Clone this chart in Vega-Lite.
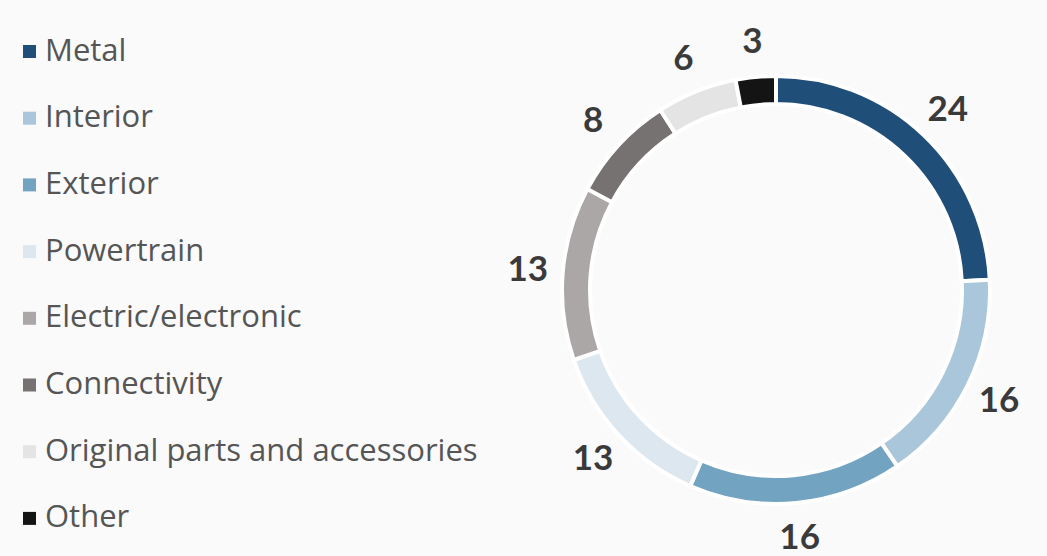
{
  "$schema": "https://vega.github.io/schema/vega-lite/v6.json",
  "width": 540,
  "height": 532,
  "padding": {"left": 506, "top": 24, "right": 1, "bottom": 0},
  "autosize": {"type": "none"},
  "background": "#fafafa",
  "config": {"view": {"stroke": null}},
  "data": {
    "values": [
      {"category": "Metal", "value": 24, "order": 1},
      {"category": "Interior", "value": 16, "order": 2},
      {"category": "Exterior", "value": 16, "order": 3},
      {"category": "Powertrain", "value": 13, "order": 4},
      {"category": "Electric/electronic", "value": 13, "order": 5},
      {"category": "Connectivity", "value": 8, "order": 6},
      {"category": "Original parts and accessories", "value": 6, "order": 7},
      {"category": "Other", "value": 3, "order": 8}
    ]
  },
  "layer": [
    {
      "mark": {"type": "arc", "outerRadius": 214, "innerRadius": 186, "stroke": "white", "strokeWidth": 4},
      "encoding": {
        "theta": {"field": "value", "type": "quantitative", "stack": true},
        "order": {"field": "order", "type": "quantitative"},
        "color": {
          "field": "category",
          "type": "nominal",
          "scale": {
            "domain": ["Metal", "Interior", "Exterior", "Powertrain", "Electric/electronic", "Connectivity", "Original parts and accessories", "Other"],
            "range": ["#1f4e79", "#a9c6da", "#72a3c1", "#dde7f0", "#aba7a6", "#767271", "#e4e4e4", "#141414"]
          },
          "legend": {
            "orient": "none",
            "legendX": -492,
            "legendY": 12,
            "title": null,
            "padding": 0,
            "symbolType": "square",
            "symbolSize": 169,
            "symbolStrokeWidth": 0,
            "labelFont": "Open Sans",
            "labelFontSize": 31,
            "labelColor": "#555555",
            "labelOffset": 0,
            "rowPadding": 34.7,
            "labelLimit": 600
          }
        }
      }
    },
    {
      "mark": {"type": "text", "radius": 249, "fontSize": 35, "fontWeight": "bold", "font": "Lato", "color": "#3a3a3a", "align": "center", "baseline": "middle"},
      "encoding": {
        "theta": {"field": "value", "type": "quantitative", "stack": true},
        "order": {"field": "order", "type": "quantitative"},
        "text": {"field": "value", "type": "quantitative"}
      }
    }
  ]
}
